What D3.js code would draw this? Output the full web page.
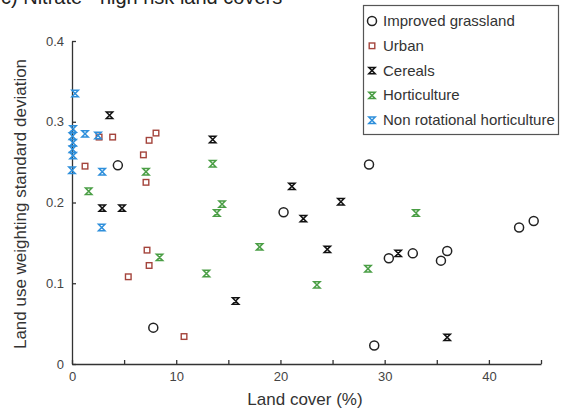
<!DOCTYPE html>
<html><head><meta charset="utf-8">
<script src="https://cdn.jsdelivr.net/npm/d3@7"></script>
<style>body{margin:0;background:#fff}svg{display:block;font-family:"Liberation Sans",Arial,sans-serif}</style>
</head><body>
<svg id="c" width="561" height="415"></svg>
<script>
const title = "c) Nitrate - high risk land covers";
const seriesNames = ["Improved grassland","Urban","Cereals","Horticulture","Non rotational horticulture"];
const seriesColors = ["#222222","#a4443c","#111111","#4a9e45","#2e8fdb"];
const seriesShapes = ["circle","square","hourglass","hourglass","hourglass"];
const grasslandX = [4.4,7.8,20.3,28.5,29.0,30.4,32.7,35.4,36.0,42.9,44.3];
const grasslandY = [0.246,0.045,0.188,0.247,0.023,0.131,0.137,0.128,0.140,0.169,0.177];
const urbanX = [1.25,2.6,3.9,6.85,7.4,8.06,7.1,7.2,7.4,5.4,10.75];
const urbanY = [0.245,0.281,0.281,0.259,0.277,0.286,0.225,0.141,0.122,0.108,0.034];
const cerealsX = [3.6,13.5,2.9,4.8,21.1,22.2,25.8,24.5,15.7,31.3,36.0];
const cerealsY = [0.308,0.278,0.193,0.193,0.220,0.180,0.201,0.142,0.078,0.137,0.033];
const hortX = [1.6,7.1,8.4,12.9,13.5,13.9,14.4,18.0,23.5,28.4,33.0];
const hortY = [0.214,0.238,0.132,0.112,0.248,0.187,0.198,0.145,0.098,0.118,0.187];
const nonRotX = [0.3,0.1,0.05,0.1,0.05,0.1,0.0,1.25,2.5,2.9,2.85];
const nonRotY = [0.335,0.291,0.282,0.274,0.266,0.258,0.240,0.285,0.283,0.238,0.169];
const xTicks = [0,5,10,15,20,25,30,35,40,45];
const xTickLabels = ["0","","10","","20","","30","","40",""];
const yTicks = [0,0.1,0.2,0.3,0.4];
const yTickLabels = ["0","0.1","0.2","0.3","0.4"];
const xLabel = "Land cover (%)";
const yLabel = "Land use weighting standard deviation";

const seriesX = [grasslandX,urbanX,cerealsX,hortX,nonRotX];
const seriesY = [grasslandY,urbanY,cerealsY,hortY,nonRotY];

const svg = d3.select("#c");
const x = d3.scaleLinear().domain([0,45]).range([72,541]);
const y = d3.scaleLinear().domain([0,0.4]).range([364,41]);
const axisColor = "#333";

// title (cut off at top edge, as in the reference)
svg.append("text").attr("x",1).attr("y",4).attr("font-size",20).attr("fill","#222").text(title);

// axes
const xa = svg.append("g").attr("transform",`translate(0,${y(0)})`)
  .call(d3.axisBottom(x).tickValues(xTicks).tickSizeInner(-4).tickSizeOuter(0).tickPadding(8)
  .tickFormat((d,i)=>xTickLabels[i]));
const ya = svg.append("g").attr("transform",`translate(${x(0)},0)`)
  .call(d3.axisLeft(y).tickValues(yTicks).tickSizeInner(-4).tickSizeOuter(0).tickPadding(8)
  .tickFormat((d,i)=>yTickLabels[i]));
[xa,ya].forEach(a=>{
  a.select(".domain").attr("stroke",axisColor).attr("stroke-width",1.3);
  a.selectAll(".tick line").attr("stroke",axisColor).attr("stroke-width",1.3);
  a.selectAll(".tick text").attr("fill","#444").attr("font-size",13).attr("font-family","Liberation Sans, Arial, sans-serif");
});

svg.append("text").attr("x",305).attr("y",405).attr("text-anchor","middle").attr("font-size",17).attr("fill","#333").text(xLabel);
svg.append("text").attr("transform","translate(26,204) rotate(-90)").attr("text-anchor","middle").attr("font-size",17).attr("fill","#333").text(yLabel);

function drawMarker(g, shape, color, cx, cy){
  if(shape==="circle"){
    g.append("circle").attr("cx",cx).attr("cy",cy).attr("r",4.5).attr("fill","none").attr("stroke",color).attr("stroke-width",1.5);
  } else if(shape==="square"){
    g.append("rect").attr("x",cx-2.8).attr("y",cy-2.8).attr("width",5.6).attr("height",5.6).attr("fill","none").attr("stroke",color).attr("stroke-width",1.4);
  } else {
    const s=3.2;
    g.append("path").attr("d",`M${cx-s},${cy-s}L${cx+s},${cy-s}L${cx-s},${cy+s}L${cx+s},${cy+s}Z`)
      .attr("fill","none").attr("stroke",color).attr("stroke-width",1.5).attr("stroke-linejoin","miter");
  }
}

const plot = svg.append("g");
seriesNames.forEach((name,i)=>{
  const g = plot.append("g");
  seriesX[i].forEach((xv,j)=>drawMarker(g, seriesShapes[i], seriesColors[i], x(xv), y(seriesY[i][j])));
});

// legend
const lg = svg.append("g");
lg.append("rect").attr("x",363.5).attr("y",5.5).attr("width",195).attr("height",129).attr("fill","#fff").attr("stroke","#555").attr("stroke-width",1.2);
seriesNames.forEach((name,i)=>{
  const ly = 21 + i*24.8;
  drawMarker(lg, seriesShapes[i], seriesColors[i], 372, ly);
  lg.append("text").attr("x",383).attr("y",ly+5).attr("font-size",15).attr("fill","#333").text(name);
});
</script>
</body></html>
